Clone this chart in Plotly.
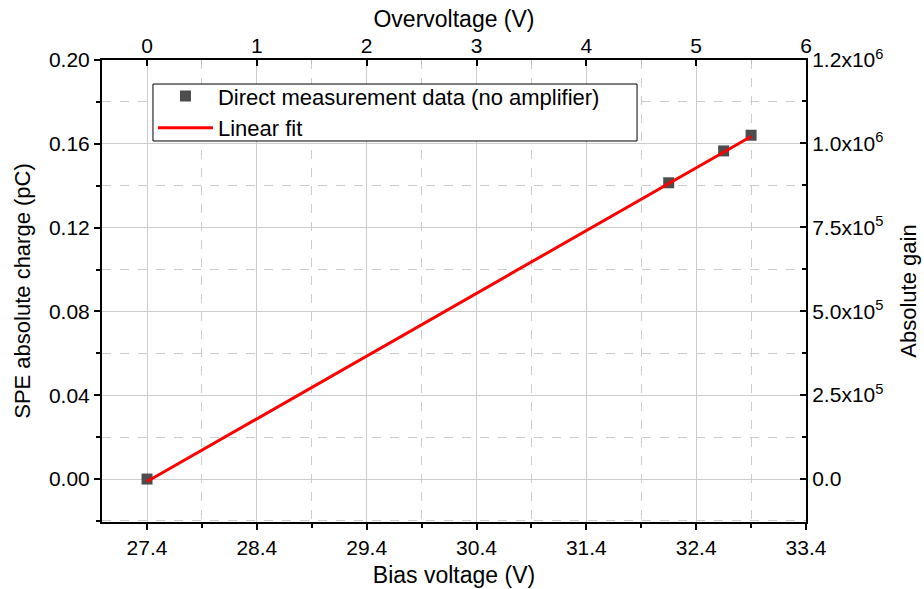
import plotly.graph_objects as go

# Data
bias_v = [27.4, 32.15, 32.65, 32.9]
charge_pc = [0.0, 0.1414, 0.1566, 0.1641]
fit_bias = [27.4, 32.9]
fit_charge = [-0.0012, 0.1635]

breakdown_v = 27.4
e_pc = 1.602e-7  # electron charge in pC

x_ticks = [27.4, 28.4, 29.4, 30.4, 31.4, 32.4, 33.4]
x_labels = ["27.4", "28.4", "29.4", "30.4", "31.4", "32.4", "33.4"]
y_ticks = [0.00, 0.04, 0.08, 0.12, 0.16, 0.20]
y_labels = ["0.00", "0.04", "0.08", "0.12", "0.16", "0.20"]
gain_ticks = [0, 2.5e5, 5e5, 7.5e5, 1e6]
gain_labels = ["0.0", "2.5x10<sup>5</sup>", "5.0x10<sup>5</sup>", "7.5x10<sup>5</sup>", "1.0x10<sup>6</sup>"]
ov_ticks = [0, 1, 2, 3, 4, 5, 6]

x_range = [26.99, 33.4]
y_range = [-0.0205, 0.20]

FONT = "Arial, Liberation Sans, sans-serif"
GRID = "#cccccc"
TICKF = dict(family=FONT, size=21, color="black")
TITLEH = dict(family=FONT, size=23, color="black")
TITLEV = dict(family=FONT, size=22, color="black")

fig = go.Figure()
fig.add_trace(go.Scatter(
    x=bias_v, y=charge_pc, mode="markers", name="Direct measurement data (no amplifier)",
    marker=dict(symbol="square", size=11, color="#4d4d4d", line=dict(width=0)),
))
fig.add_trace(go.Scatter(
    x=fit_bias, y=fit_charge, mode="lines", name="Linear fit",
    line=dict(color="#ff0000", width=3),
))
# invisible helpers for secondary axes
fig.add_trace(go.Scatter(x=[v - breakdown_v for v in bias_v], y=charge_pc, xaxis="x2", yaxis="y",
                         mode="markers", marker=dict(opacity=0), showlegend=False, hoverinfo="skip"))
fig.add_trace(go.Scatter(x=bias_v, y=charge_pc, xaxis="x", yaxis="y2",
                         mode="markers", marker=dict(opacity=0), showlegend=False, hoverinfo="skip"))

gain_vals = [g * e_pc for g in gain_ticks] + [y_range[1]]
gain_text = gain_labels + ["1.2x10<sup>6</sup>"]

fig.update_layout(
    width=924, height=589,
    margin=dict(l=102, r=118, t=60, b=67),
    paper_bgcolor="white", plot_bgcolor="white",
    font=dict(family=FONT, size=21, color="black"),
    showlegend=True,
    legend=dict(x=0.0724, y=0.967, xanchor="left", yanchor="top",
                borderwidth=0, bgcolor="rgba(0,0,0,0)",
                font=dict(family=FONT, size=22), tracegroupgap=0, itemwidth=55),
    shapes=[dict(type="rect", xref="paper", yref="paper",
                 x0=0.0724, x1=0.760, y0=0.8247, y1=0.948,
                 line=dict(color="black", width=1), fillcolor="white", layer="above")],
    xaxis=dict(
        range=x_range, tickvals=x_ticks, ticktext=x_labels, tickfont=TICKF,
        showline=True, linecolor="black", linewidth=2,
        ticks="outside", ticklen=6, tickwidth=2, tickcolor="black",
        showgrid=True, gridcolor=GRID, gridwidth=1,
        minor=dict(tick0=27.9, dtick=1, ticks="outside", ticklen=4, tickwidth=2, tickcolor="black",
                   showgrid=True, gridcolor=GRID, griddash="dash", gridwidth=1),
        zeroline=False, automargin=False,
        title=dict(text="Bias voltage (V)", standoff=9, font=TITLEH),
    ),
    xaxis2=dict(
        overlaying="x", side="top", range=[x_range[0] - breakdown_v, x_range[1] - breakdown_v],
        tickvals=ov_ticks, tickfont=TICKF, showline=True, linecolor="black", linewidth=2,
        ticks="inside", ticklen=6, tickwidth=2, tickcolor="black", ticklabelstandoff=-3,
        minor=dict(tick0=0.5, dtick=1, ticks="inside", ticklen=4, tickwidth=1, tickcolor="#bbbbbb"),
        showgrid=False, zeroline=False, automargin=False,
        title=dict(text="Overvoltage (V)", standoff=0, font=TITLEH),
    ),
    yaxis=dict(
        range=y_range, tickvals=y_ticks, ticktext=y_labels, tickfont=TICKF,
        showline=True, linecolor="black", linewidth=2,
        ticks="outside", ticklen=6, tickwidth=2, tickcolor="black",
        showgrid=True, gridcolor=GRID, gridwidth=1,
        minor=dict(tick0=0.02, dtick=0.04, ticks="outside", ticklen=4, tickwidth=2, tickcolor="black",
                   showgrid=True, gridcolor=GRID, griddash="dash", gridwidth=1),
        zeroline=False, automargin=False,
        title=dict(text="SPE absolute charge (pC)", standoff=12, font=TITLEV),
    ),
    yaxis2=dict(
        overlaying="y", side="right", range=y_range,
        tickvals=gain_vals, ticktext=gain_text, tickfont=TICKF,
        showline=True, linecolor="black", linewidth=2,
        ticks="inside", ticklen=6, tickwidth=2, tickcolor="black",
        minor=dict(tick0=1.25e5 * e_pc, dtick=2.5e5 * e_pc, ticks="inside", ticklen=4, tickwidth=2,
                   tickcolor="black", showgrid=False),
        showgrid=False, zeroline=False, automargin=False,
        title=dict(text="Absolute gain", standoff=18, font=TITLEV),
    ),
)

fig.write_html("out.html", config={"displayModeBar": False},
               post_script="document.body.style.margin='0';")
